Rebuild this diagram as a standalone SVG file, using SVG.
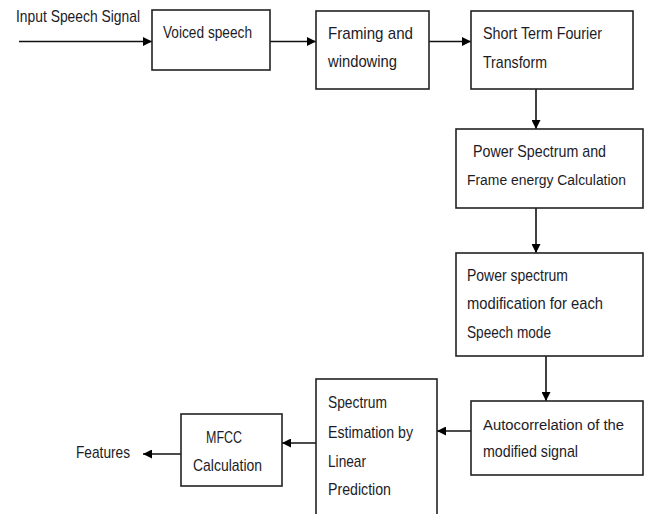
<svg xmlns="http://www.w3.org/2000/svg" width="648" height="514" viewBox="0 0 648 514">
<defs>
<marker id="ah" viewBox="0 0 10 10" refX="10" refY="5" markerWidth="9" markerHeight="9" markerUnits="userSpaceOnUse" orient="auto">
<path d="M0,0 L10,5 L0,10 z" fill="#000"/>
</marker>
<style>
.box{fill:#fff;stroke:#222;stroke-width:1.6}
.c{stroke:#111;stroke-width:1.6;fill:none;marker-end:url(#ah)}
text{font-family:"Liberation Sans",Arial,sans-serif;font-size:17px;fill:#1c1c28}
.s{font-size:15.5px}
</style>
</defs>
<rect width="648" height="514" fill="#fff"/>
<g id="connectors">
<path class="c" d="M19,41.5 H152"/>
<path class="c" d="M270,41.5 H316"/>
<path class="c" d="M429,41.5 H471"/>
<path class="c" d="M536,89 V129"/>
<path class="c" d="M536,208 V253"/>
<path class="c" d="M546,356 V401"/>
<path class="c" d="M471,431 H437"/>
<path class="c" d="M316,443 H282"/>
<path class="c" d="M181,454 H143"/>
</g>
<g id="input"><text x="16" y="22" textLength="124" lengthAdjust="spacingAndGlyphs">Input Speech Signal</text></g>
<g id="voiced">
<rect class="box" x="152" y="10" width="118" height="60"/>
<text x="163" y="38" textLength="89" lengthAdjust="spacingAndGlyphs">Voiced speech</text>
</g>
<g id="framing">
<rect class="box" x="316" y="11" width="113" height="78"/>
<text x="328" y="39" textLength="85" lengthAdjust="spacingAndGlyphs">Framing  and</text>
<text x="328" y="67" textLength="69" lengthAdjust="spacingAndGlyphs">windowing</text>
</g>
<g id="stft">
<rect class="box" x="471" y="11" width="162" height="78"/>
<text x="483" y="39" textLength="119" lengthAdjust="spacingAndGlyphs">Short Term Fourier</text>
<text x="483" y="68" textLength="64" lengthAdjust="spacingAndGlyphs">Transform</text>
</g>
<g id="power">
<rect class="box" x="456" y="129" width="187" height="79"/>
<text x="473" y="157" textLength="133" lengthAdjust="spacingAndGlyphs">Power Spectrum  and</text>
<text class="s" x="467" y="185" textLength="159" lengthAdjust="spacingAndGlyphs">Frame energy Calculation</text>
</g>
<g id="modification">
<rect class="box" x="456" y="253" width="187" height="103"/>
<text x="467" y="281" textLength="101" lengthAdjust="spacingAndGlyphs">Power spectrum</text>
<text x="467" y="309" textLength="136" lengthAdjust="spacingAndGlyphs">modification for each</text>
<text x="467" y="338" textLength="84" lengthAdjust="spacingAndGlyphs">Speech mode</text>
</g>
<g id="autocorrelation">
<rect class="box" x="471" y="401" width="172" height="74"/>
<text class="s" x="483" y="430" textLength="141" lengthAdjust="spacingAndGlyphs">Autocorrelation  of  the</text>
<text x="483" y="457" textLength="95" lengthAdjust="spacingAndGlyphs">modified signal</text>
</g>
<g id="spectrum">
<rect class="box" x="316" y="379" width="121" height="145"/>
<text x="328" y="408" textLength="59" lengthAdjust="spacingAndGlyphs">Spectrum</text>
<text x="328" y="438" textLength="85" lengthAdjust="spacingAndGlyphs">Estimation by</text>
<text x="328" y="467" textLength="38" lengthAdjust="spacingAndGlyphs">Linear</text>
<text x="328" y="495" textLength="63" lengthAdjust="spacingAndGlyphs">Prediction</text>
</g>
<g id="mfcc">
<rect class="box" x="181" y="414" width="101" height="72"/>
<text x="206" y="443" textLength="36" lengthAdjust="spacingAndGlyphs">MFCC</text>
<text x="193" y="471" textLength="69" lengthAdjust="spacingAndGlyphs">Calculation</text>
</g>
<g id="features"><text x="76" y="458" textLength="54" lengthAdjust="spacingAndGlyphs">Features</text></g>
</svg>
